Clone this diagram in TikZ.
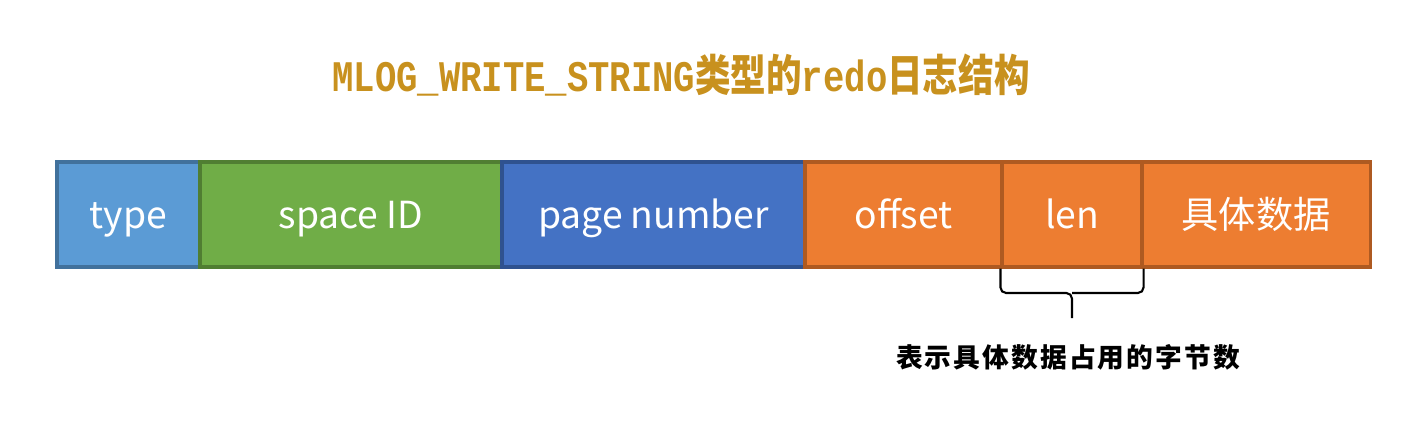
\documentclass[tikz,border=0pt]{standalone}
\usepackage{fontspec}
\usetikzlibrary{positioning}
\usepackage{xcolor}
\newfontfamily\cjk{Noto Sans CJK SC}
\newfontfamily\titlemono{Liberation Mono}
\definecolor{TypeBlue}{HTML}{5B9BD5}
\definecolor{TypeEdge}{HTML}{41719C}
\definecolor{SpaceGreen}{HTML}{70AD47}
\definecolor{SpaceEdge}{HTML}{507E32}
\definecolor{PageBlue}{HTML}{4472C4}
\definecolor{PageEdge}{HTML}{2F528F}
\definecolor{Orange}{HTML}{ED7D31}
\definecolor{OrangeEdge}{HTML}{AE5A21}
\definecolor{Gold}{HTML}{C8911E}

\begin{document}
\begin{tikzpicture}[
    x=0.025cm, y=-0.025cm,
    field/.style={draw, line width=2.2pt, minimum height=2.625cm, inner sep=0pt,
        text height=25pt, text depth=4.5pt,
        text=white, font=\cjk\fontsize{26.5}{30}\selectfont},
    brace/.style={line width=1.5pt, rounded corners=4pt},
    every node/.style={font=\normalsize}
]
\useasboundingbox (0,0) rectangle (1426,430);

\node[font=\bfseries\fontsize{23}{27}\selectfont, text=Gold] (title) at (681,75)
    {\scalebox{1.1}[1.35]{\titlemono MLOG\_WRITE\_STRING\cjk 类型的\titlemono redo\cjk 日志结构}};

\node[field, fill=TypeBlue, draw=TypeEdge, minimum width=3.575cm] (type) at (128.5,214.5) {type};
\node[field, fill=SpaceGreen, draw=SpaceEdge, minimum width=7.55cm] (space) at (351,214.5) {space ID};
\node[field, fill=PageBlue, draw=PageEdge, minimum width=7.575cm] (page) at (653.5,214.5) {page number};
\node[field, fill=Orange, draw=OrangeEdge, minimum width=4.925cm] (offset) at (903.5,214.5) {offset};
\node[field, fill=Orange, draw=OrangeEdge, minimum width=3.5cm] (len) at (1072,214.5) {len};
\node[field, fill=Orange, draw=OrangeEdge, minimum width=5.7cm] (data) at (1256,214.5) {具体数据};

\coordinate (tip) at (1072,318);
\draw[brace] (len.south west) |- (1072,293) -- (tip);
\draw[brace] (len.south east) |- (1072,293);

\node[font=\cjk\bfseries\fontsize{19}{23}\selectfont] (note) at (1068,357)
    {表\kern1.5pt 示\kern1.5pt 具\kern1.5pt 体\kern1.5pt 数\kern1.5pt 据\kern1.5pt 占\kern1.5pt 用\kern1.5pt 的\kern1.5pt 字\kern1.5pt 节\kern1.5pt 数};

\end{tikzpicture}
\end{document}
